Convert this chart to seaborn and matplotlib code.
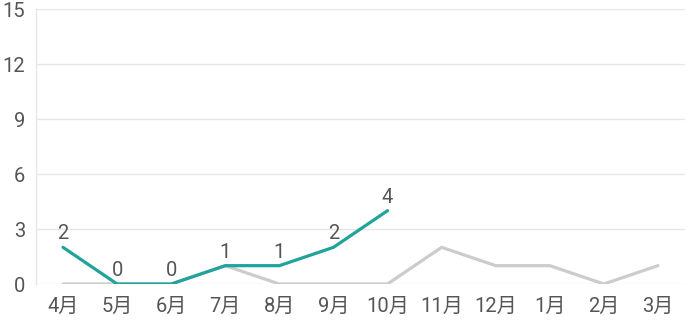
import matplotlib
matplotlib.use("Agg")
import matplotlib.pyplot as plt
import seaborn as sns
import pandas as pd

months = ["4月", "5月", "6月", "7月", "8月", "9月", "10月", "11月", "12月", "1月", "2月", "3月"]
current = [2, 0, 0, 1, 1, 2, 4]
previous = [0, 0, 0, 1, 0, 0, 0, 2, 1, 1, 0, 1]
yticks = [0, 3, 6, 9, 12, 15]

sns.set_theme(style="white")
plt.rcParams['font.family'] = ['Roboto', 'Noto Sans CJK JP', 'DejaVu Sans']

df_prev = pd.DataFrame({"x": range(len(previous)), "v": previous})
df_cur = pd.DataFrame({"x": range(len(current)), "v": current})

fig = plt.figure(figsize=(6.85, 3.23), dpi=100)
ax = fig.add_axes([36/685, 1 - 284/323, (685-36)/685, (284-9)/323])

sns.lineplot(data=df_prev, x="x", y="v", ax=ax, color="#cccccc", linewidth=2.3, zorder=2)
sns.lineplot(data=df_cur, x="x", y="v", ax=ax, color="#1fa39a", linewidth=2.3, zorder=3)

for xi, v in zip(df_cur["x"], df_cur["v"]):
    ax.annotate(str(v), (xi, v), xytext=(0, 3), textcoords="offset points",
                ha="center", va="bottom", fontsize=14.5, color="#555555")

ax.set_xlim(-0.5, len(months) - 0.5)
ax.set_ylim(0, 15)
ax.set_yticks(yticks)
ax.set_xticks(range(len(months)))
ax.set_xticklabels(months)
ax.set_xlabel("")
ax.set_ylabel("")
ax.grid(axis="y", color="#e6e6e6", linewidth=1)
ax.set_axisbelow(True)
for s in ["top", "right", "bottom"]:
    ax.spines[s].set_visible(False)
ax.spines["left"].set_color("#e6e6e6")
ax.spines["left"].set_linewidth(1)
ax.tick_params(axis="both", length=0, labelsize=14.5, colors="#555555")
ax.tick_params(axis="y", pad=8)
ax.tick_params(axis="x", pad=9)

fig.savefig("out.png", dpi=100)
